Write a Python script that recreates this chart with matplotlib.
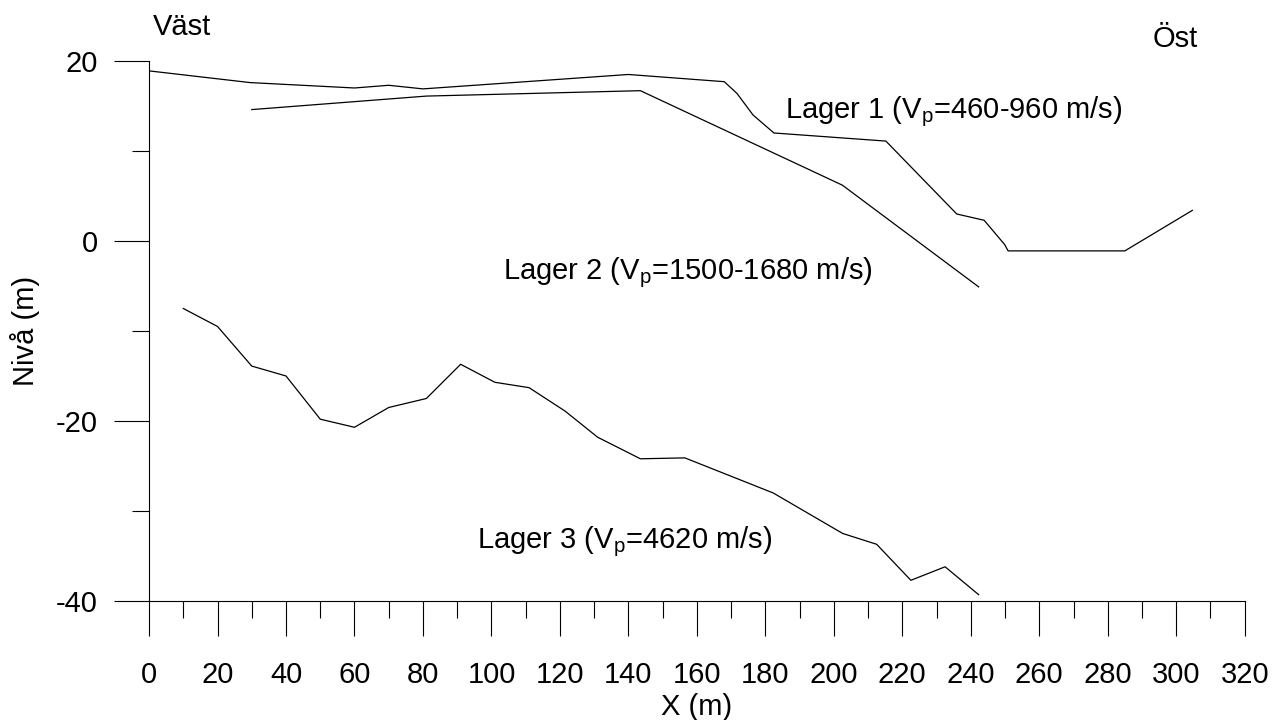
import matplotlib
matplotlib.use("Agg")
import matplotlib.pyplot as plt
from matplotlib.ticker import MultipleLocator

plt.rcParams['font.family'] = ['Liberation Sans', 'DejaVu Sans']
plt.rcParams['axes.unicode_minus'] = False

# layer boundaries (x in m, level in m)
lager1_x = [0, 29.5, 60, 70, 80, 140, 168, 171.7, 176.4, 182.5, 215.2, 235.9, 243.9, 249.9, 250.9, 285, 304.7]
lager1_y = [18.9, 17.6, 17.0, 17.3, 16.9, 18.5, 17.7, 16.4, 14.0, 12.0, 11.1, 3.0, 2.3, -0.4, -1.1, -1.1, 3.4]

lager2_x = [30, 81, 143.5, 202.5, 242.3]
lager2_y = [14.6, 16.1, 16.7, 6.2, -5.1]

lager3_x = [10, 20, 30, 40, 50, 60, 70, 81, 91, 101, 111, 121.5, 131, 143.5, 156.5,
            182.3, 202.6, 212.5, 222.5, 232.5, 242.3]
lager3_y = [-7.5, -9.5, -13.9, -15.0, -19.8, -20.7, -18.5, -17.5, -13.7, -15.7, -16.3,
            -18.9, -21.8, -24.2, -24.1, -28.0, -32.5, -33.7, -37.7, -36.2, -39.3]

labels = [r'Lager 1 (V$_\mathregular{p}$=460-960 m/s)',
          r'Lager 2 (V$_\mathregular{p}$=1500-1680 m/s)',
          r'Lager 3 (V$_\mathregular{p}$=4620 m/s)']
label_x = [185.7, 103.3, 95.7]
label_y = [13.6, -4.3, -34.1]

fs = 21

fig = plt.figure(figsize=(12.74, 7.2), dpi=100)
ax = fig.add_axes([0.117, 0.1653, 0.86, 0.75])

for xs, ys in [(lager1_x, lager1_y), (lager2_x, lager2_y), (lager3_x, lager3_y)]:
    ax.plot(xs, ys, color='black', lw=0.9)

for t, x, y in zip(labels, label_x, label_y):
    ax.text(x, y, t, fontsize=fs, ha='left', va='baseline')

ax.text(1, 22.9, 'Väst', fontsize=fs, ha='left', va='baseline', clip_on=False)
ax.text(293, 21.6, 'Öst', fontsize=fs, ha='left', va='baseline', clip_on=False)

ax.set_xlim(0, 320)
ax.set_ylim(-40, 20)
ax.xaxis.set_major_locator(MultipleLocator(20))
ax.xaxis.set_minor_locator(MultipleLocator(10))
ax.yaxis.set_major_locator(MultipleLocator(20))
ax.yaxis.set_minor_locator(MultipleLocator(10))

ax.spines['top'].set_visible(False)
ax.spines['right'].set_visible(False)
for s in ['left', 'bottom']:
    ax.spines[s].set_linewidth(0.8)

ax.tick_params(which='major', direction='out', length=25, width=0.8, labelsize=fs)
ax.tick_params(axis='x', which='major', pad=18)
ax.tick_params(axis='y', which='major', pad=12)
ax.tick_params(which='minor', direction='out', length=12, width=0.8)

ax.set_xlabel('X (m)', fontsize=fs, labelpad=3)
ax.set_ylabel('Nivå (m)', fontsize=fs, labelpad=11)

fig.savefig('out.png', dpi=100)
